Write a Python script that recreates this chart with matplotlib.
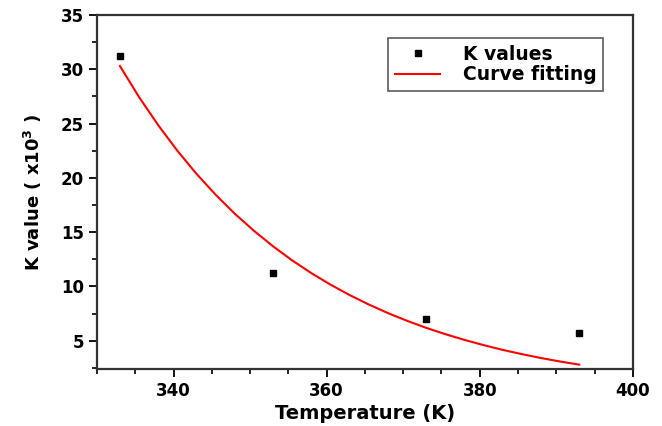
import matplotlib.pyplot as plt
from matplotlib.ticker import MultipleLocator

# measured K values
temps = [333, 353, 373, 393]
k_values = [31.2, 11.2, 7.05, 5.75]

# fitted curve
fit_temps = [333, 335.5, 338, 340.5, 343, 345.5, 348, 350.5, 353, 355.5, 358, 360.5, 363,
             365.5, 368, 370.5, 373, 375.5, 378, 380.5, 383, 385.5, 388, 390.5, 393]
fit_values = [30.30, 27.44, 24.85, 22.50, 20.37, 18.45, 16.70, 15.13, 13.70, 12.40, 11.23,
              10.17, 9.21, 8.34, 7.55, 6.84, 6.19, 5.61, 5.08, 4.60, 4.16, 3.77, 3.41,
              3.09, 2.80]

plt.rcParams['font.family'] = ['DejaVu Sans']
plt.rcParams['font.weight'] = 'bold'

fig = plt.figure(figsize=(6.62, 4.26), dpi=100)
ax = fig.add_axes([0.1465, 0.1338, 0.8095, 0.831])

ax.plot(temps, k_values, linestyle='none', marker='s', color='black',
        markersize=5, label='K values')
ax.plot(fit_temps, fit_values, color='red', linewidth=1.5, label='Curve fitting')

ax.set_xlim(330, 400)
ax.set_ylim(2.4, 35)
ax.xaxis.set_major_locator(MultipleLocator(20))
ax.xaxis.set_minor_locator(MultipleLocator(5))
ax.yaxis.set_major_locator(MultipleLocator(5))
ax.yaxis.set_minor_locator(MultipleLocator(2.5))
ax.set_yticks([5, 10, 15, 20, 25, 30, 35])

ax.tick_params(which='major', direction='out', length=6, width=1.3, labelsize=12)
ax.tick_params(which='minor', direction='out', length=3.5, width=1.2)
for s in ax.spines.values():
    s.set_linewidth(1.6)
    s.set_color('#333333')

ax.set_xlabel('Temperature (K)', fontsize=14, fontweight='bold', labelpad=3)
ax.set_ylabel('K value ( x10$^{3}$ )', fontsize=13, fontweight='bold', labelpad=12)

leg = ax.legend(loc='upper right', bbox_to_anchor=(0.944, 0.935), borderaxespad=0,
                fontsize=13.5, frameon=True, fancybox=False, edgecolor='#333333',
                handlelength=2.4, handletextpad=1.2, borderpad=0.35, labelspacing=0.1,
                markerscale=0.8)
leg.get_frame().set_linewidth(1.2)

fig.savefig('out.png', dpi=100)
